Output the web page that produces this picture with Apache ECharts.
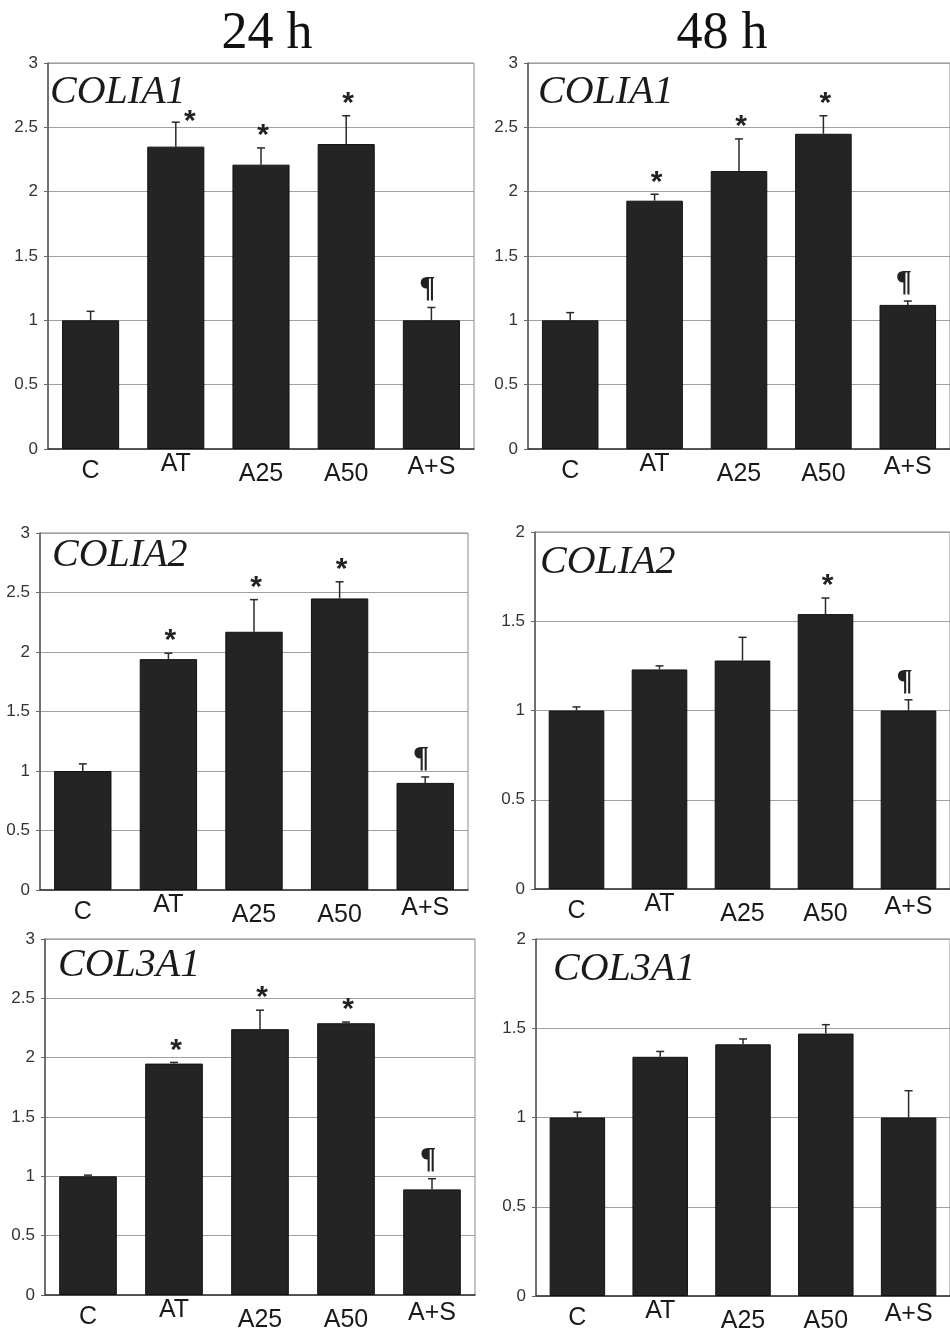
<!DOCTYPE html>
<html>
<head>
<meta charset="utf-8">
<style>
  html, body { margin: 0; padding: 0; background: #fff; }
  #chart { width: 950px; height: 1336px; }
</style>
<script src="https://cdn.jsdelivr.net/npm/echarts@6/dist/echarts.min.js"></script>
</head>
<body>
<div id="chart"></div>
<script>
// ---------------- DATA ----------------
const categories = ['C', 'AT', 'A25', 'A50', 'A+S'];
const timeHeadings = ['24 h', '48 h'];

const col1a1_24h = [1.00, 2.35, 2.21, 2.37, 1.00];
const col1a1_24h_err = [0.07, 0.19, 0.13, 0.22, 0.10];
const col1a1_24h_marks = ['', '*', '*', '*', '¶'];

const col1a1_48h = [1.00, 1.93, 2.16, 2.45, 1.12];
const col1a1_48h_err = [0.06, 0.05, 0.25, 0.14, 0.03];
const col1a1_48h_marks = ['', '*', '*', '*', '¶'];

const col1a2_24h = [1.00, 1.94, 2.17, 2.45, 0.90];
const col1a2_24h_err = [0.06, 0.05, 0.27, 0.14, 0.05];
const col1a2_24h_marks = ['', '*', '*', '*', '¶'];

const col1a2_48h = [1.00, 1.23, 1.28, 1.54, 1.00];
const col1a2_48h_err = [0.02, 0.02, 0.13, 0.09, 0.06];
const col1a2_48h_marks = ['', '', '', '*', '¶'];

const col3a1_24h = [1.00, 1.95, 2.24, 2.29, 0.89];
const col3a1_24h_err = [0.01, 0.01, 0.16, 0.01, 0.09];
const col3a1_24h_marks = ['', '*', '*', '*', '¶'];

const col3a1_48h = [1.00, 1.34, 1.41, 1.47, 1.00];
const col3a1_48h_err = [0.03, 0.03, 0.03, 0.05, 0.15];
const col3a1_48h_marks = ['', '', '', '', ''];

const yTicks3 = ['0', '0.5', '1', '1.5', '2', '2.5', '3'];
const yTicks2 = ['0', '0.5', '1', '1.5', '2'];

const panels = [
  { gene: 'COLIA1', values: col1a1_24h, errors: col1a1_24h_err, marks: col1a1_24h_marks, ticks: yTicks3 },
  { gene: 'COLIA1', values: col1a1_48h, errors: col1a1_48h_err, marks: col1a1_48h_marks, ticks: yTicks3 },
  { gene: 'COLIA2', values: col1a2_24h, errors: col1a2_24h_err, marks: col1a2_24h_marks, ticks: yTicks3 },
  { gene: 'COLIA2', values: col1a2_48h, errors: col1a2_48h_err, marks: col1a2_48h_marks, ticks: yTicks2 },
  { gene: 'COL3A1', values: col3a1_24h, errors: col3a1_24h_err, marks: col3a1_24h_marks, ticks: yTicks3 },
  { gene: 'COL3A1', values: col3a1_48h, errors: col3a1_48h_err, marks: col3a1_48h_marks, ticks: yTicks2 }
];

// ---------------- LAYOUT / STYLE ----------------
const layout = [
  { left: 48,  top: 63,  width: 426, height: 386, geneX: 50,  geneY: 92 },
  { left: 528, top: 63,  width: 427, height: 386, geneX: 538, geneY: 92 },
  { left: 40,  top: 533, width: 428, height: 357, geneX: 52,  geneY: 555 },
  { left: 535, top: 532, width: 418, height: 357, geneX: 540, geneY: 562 },
  { left: 45,  top: 939, width: 430, height: 356, geneX: 58,  geneY: 965 },
  { left: 536, top: 939, width: 418, height: 357, geneX: 553, geneY: 969 }
];
// special nudges for individual significance marks: [panel, category] -> [dx, dy]
const markNudge = { '0-1': [12, 12] };
const headingPos = [[267, 34], [722, 34]];
const labelPad = [7, 0, 10, 10, 3];
const SANS = '"Liberation Sans", Arial, sans-serif';
const SERIF = '"Liberation Serif", "Times New Roman", serif';
const BAR = '#242424';

const grids = [], xAxes = [], yAxes = [], series = [], graphics = [];

panels.forEach((p, k) => {
  const L = layout[k];
  const maxV = (p.ticks.length - 1) * 0.5;
  grids.push({
    left: L.left, top: L.top, width: L.width, height: L.height,
    show: true, borderColor: '#8a8a8a', borderWidth: 1, backgroundColor: '#fff'
  });
  const rich = {};
  categories.forEach((c, i) => {
    rich['c' + i] = { fontFamily: SANS, fontSize: 25, color: '#1a1a1a', padding: [labelPad[i], 0, 0, 0] };
  });
  xAxes.push({
    type: 'category', gridIndex: k, data: categories,
    axisLine: { lineStyle: { color: '#333', width: 1.5 } },
    axisTick: { show: false },
    axisLabel: {
      margin: 3, interval: 0,
      formatter: (v, i) => '{c' + i + '|' + v + '}',
      rich: rich
    }
  });
  yAxes.push({
    type: 'value', gridIndex: k, min: 0, max: maxV, interval: 0.5,
    axisLine: { show: true, lineStyle: { color: '#555', width: 1.5 } },
    axisTick: { show: true, length: 4, lineStyle: { color: '#666' } },
    splitLine: { lineStyle: { color: '#a0a0a0', width: 1 } },
    axisLabel: {
      margin: 10, fontFamily: SANS, fontSize: 17, color: '#333',
      formatter: (v) => p.ticks[Math.round(v / 0.5)]
    }
  });
  series.push({
    type: 'bar', xAxisIndex: k, yAxisIndex: k, data: p.values,
    barCategoryGap: '33%',
    itemStyle: { color: BAR, borderColor: '#111', borderWidth: 1 },
    silent: true, animation: false
  });
  const marks = p.marks;
  series.push({
    type: 'custom', xAxisIndex: k, yAxisIndex: k,
    data: p.values.map((v, i) => [i, v, p.errors[i]]),
    animation: false, silent: true, z: 5,
    renderItem: (params, api) => {
      const i = api.value(0), v = api.value(1), e = api.value(2);
      const base = api.coord([i, v]);
      const top = api.coord([i, v + e]);
      const children = [
        { type: 'line', shape: { x1: base[0], y1: base[1], x2: top[0], y2: top[1] },
          style: { stroke: '#2a2a2a', lineWidth: 1.5 } },
        { type: 'line', shape: { x1: top[0] - 4, y1: top[1], x2: top[0] + 4, y2: top[1] },
          style: { stroke: '#2a2a2a', lineWidth: 1.5 } }
      ];
      const m = marks[params.dataIndex];
      const nudge = markNudge[k + '-' + params.dataIndex] || [0, 0];
      if (m === '*') {
        children.push({ type: 'text', style: {
          text: '*', x: top[0] + 2 + nudge[0], y: top[1] + 3 + nudge[1], textAlign: 'center', textVerticalAlign: 'bottom',
          font: 'bold 30px ' + SANS, fill: '#222' } });
      } else if (m === '¶') {
        children.push({ type: 'text', style: {
          text: '¶', x: top[0] - 4 + nudge[0], y: top[1] - 4 + nudge[1], textAlign: 'center', textVerticalAlign: 'bottom',
          font: 'bold 30px ' + SERIF, fill: '#222' } });
      }
      return { type: 'group', children: children };
    }
  });
  graphics.push({
    type: 'text', left: L.geneX, top: L.geneY - 20, z: 10,
    style: { text: p.gene, font: 'italic 40px ' + SERIF, fill: '#1a1a1a' }
  });
});

timeHeadings.forEach((t, j) => {
  graphics.push({
    type: 'text', x: headingPos[j][0], y: headingPos[j][1], z: 10,
    style: { text: t, font: '52px ' + SERIF, fill: '#111', textAlign: 'center', textVerticalAlign: 'middle' }
  });
});

const chart = echarts.init(document.getElementById('chart'), null, { renderer: 'canvas' });
chart.setOption({
  backgroundColor: '#fff',
  animation: false,
  grid: grids, xAxis: xAxes, yAxis: yAxes, series: series, graphic: graphics
});
</script>
</body>
</html>
